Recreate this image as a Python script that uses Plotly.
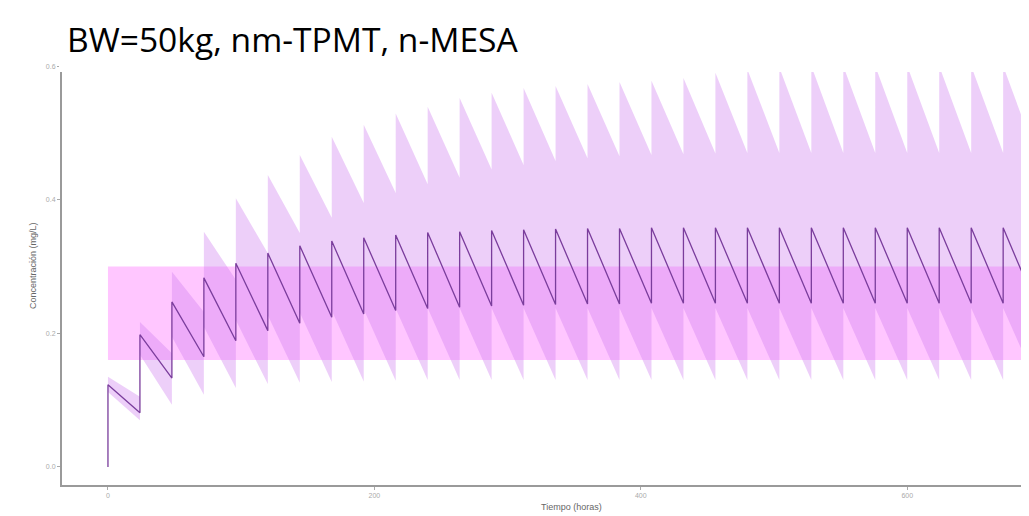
import plotly.graph_objects as go

# ---------------- data ----------------
dose_times = [0, 24, 48, 72, 96, 120, 144, 168, 192, 216, 240, 264, 288, 312, 336,
              360, 384, 408, 432, 456, 480, 504, 528, 552, 576, 600, 624, 648, 672]
dose_interval = 24

median_peak = [0.123, 0.198, 0.247, 0.283, 0.305, 0.320, 0.331, 0.338, 0.343, 0.347,
               0.351, 0.352, 0.354, 0.355, 0.356, 0.357, 0.357, 0.358, 0.358, 0.358,
               0.358, 0.358, 0.358, 0.358, 0.358, 0.358, 0.358, 0.358, 0.358]
median_trough = [0.081, 0.133, 0.165, 0.189, 0.204, 0.215, 0.224, 0.229, 0.234, 0.237,
                 0.239, 0.241, 0.242, 0.243, 0.244, 0.244, 0.245, 0.245, 0.245, 0.245,
                 0.245, 0.245, 0.245, 0.245, 0.245, 0.245, 0.245, 0.245, 0.245]

upper_peak = [0.135, 0.217, 0.292, 0.352, 0.402, 0.437, 0.467, 0.494, 0.512, 0.529,
              0.539, 0.552, 0.560, 0.567, 0.570, 0.573, 0.576, 0.578, 0.582, 0.590,
              0.595, 0.598, 0.600, 0.600, 0.600, 0.600, 0.600, 0.600, 0.600]
upper_trough = [0.105, 0.170, 0.232, 0.280, 0.320, 0.350, 0.373, 0.395, 0.410, 0.423,
                0.433, 0.445, 0.452, 0.458, 0.462, 0.465, 0.467, 0.468, 0.469, 0.470,
                0.470, 0.470, 0.470, 0.470, 0.470, 0.470, 0.470, 0.470, 0.470]

lower_peak = [0.112, 0.168, 0.195, 0.210, 0.220, 0.227, 0.231, 0.234, 0.236, 0.237,
              0.238, 0.238, 0.238, 0.238, 0.238, 0.238, 0.238, 0.238, 0.238, 0.238,
              0.238, 0.238, 0.238, 0.238, 0.238, 0.238, 0.238, 0.238, 0.238]
lower_trough = [0.070, 0.093, 0.108, 0.118, 0.124, 0.126, 0.127, 0.128, 0.129, 0.130,
                0.130, 0.130, 0.130, 0.130, 0.130, 0.130, 0.130, 0.130, 0.130, 0.130,
                0.130, 0.130, 0.130, 0.130, 0.130, 0.130, 0.130, 0.130, 0.130]

target_low = 0.16
target_high = 0.30

x_ticks = [0, 200, 400, 600]
y_ticks = [0.0, 0.2, 0.4, 0.6]
y_tick_labels = ["0.0", "0.2", "0.4", "0.6"]

title_text = "BW=50kg, nm-TPMT, n-MESA"
x_title = "Tiempo (horas)"
y_title = "Concentración (mg/L)"

# ---------------- build paths ----------------
def sawtooth(peaks, troughs, start=None):
    xs, ys = [], []
    if start is not None:
        xs.append(dose_times[0]); ys.append(start)
    for d, p, t in zip(dose_times, peaks, troughs):
        xs += [d, d + dose_interval]
        ys += [p, t]
    return xs, ys

ux, uy = sawtooth(upper_peak, upper_trough)
lx, ly = sawtooth(lower_peak, lower_trough)
mx, my = sawtooth(median_peak, median_trough, start=0.0)

band_x = ux + lx[::-1]
band_y = uy + ly[::-1]

fig = go.Figure()
fig.add_trace(go.Scatter(x=band_x, y=band_y, fill="toself",
                         fillcolor="rgba(205,125,240,0.37)",
                         line=dict(width=0), mode="lines",
                         hoverinfo="skip", showlegend=False))
fig.add_trace(go.Scatter(x=mx, y=my, mode="lines",
                         line=dict(color="#7A3D9C", width=1.3),
                         showlegend=False))

# therapeutic window
fig.add_shape(type="rect", xref="x", yref="y", x0=0, x1=800,
              y0=target_low, y1=target_high,
              fillcolor="#FFC6FF", line=dict(width=0), layer="below")

# page offset (body margin of the html page)
OFF = 8
W, H = 1029 - OFF, 516 - OFF
ml, mr, mt, mb = 62 - OFF, 0, 46 - OFF, 31
pw, ph = W - ml - mr, H - mt - mb

def px2paper_x(px):           # px given in page (reference) pixels
    return (px - OFF - ml) / pw

def px2paper_y(py):
    return (H - mb - (py - OFF)) / ph

# white cover at the top (title box of the original)
fig.add_shape(type="rect", xref="paper", yref="paper",
              x0=px2paper_x(59), x1=px2paper_x(1040),
              y0=px2paper_y(72), y1=px2paper_y(0),
              fillcolor="white", line=dict(width=0), layer="above")

fig.add_annotation(text=title_text, xref="paper", yref="paper",
                   x=px2paper_x(65), y=px2paper_y(64), xanchor="left", yanchor="bottom",
                   showarrow=False, font=dict(family="Open Sans", size=33.6, color="#000000"))
fig.add_annotation(text=x_title, xref="paper", yref="paper",
                   x=px2paper_x(571), y=px2paper_y(507), xanchor="center", yanchor="middle",
                   showarrow=False, font=dict(family="Liberation Sans", size=9, color="#666666"))
fig.add_annotation(text=y_title, xref="paper", yref="paper",
                   x=px2paper_x(33), y=px2paper_y(266), xanchor="center", yanchor="middle",
                   textangle=-90,
                   showarrow=False, font=dict(family="Liberation Sans", size=9, color="#666666"))

fig.update_layout(
    width=W, height=H,
    margin=dict(l=ml, r=mr, t=mt, b=mb, autoexpand=False),
    paper_bgcolor="white", plot_bgcolor="white",
    font=dict(family="Liberation Sans"),
)
fig.update_xaxes(range=[-34.5, 691.4], tickvals=x_ticks, showgrid=False, zeroline=False,
                 showline=True, linecolor="#9a9a9a", linewidth=2,
                 ticks="outside", ticklen=3, tickcolor="#aaaaaa", tickwidth=1,
                 tickfont=dict(size=7, color="#aaaaaa"))
fig.update_yaxes(range=[-0.027, 0.63], tickvals=y_ticks, ticktext=y_tick_labels,
                 showgrid=False, zeroline=False,
                 showline=True, linecolor="#9a9a9a", linewidth=2,
                 ticks="outside", ticklen=3, tickcolor="#aaaaaa", tickwidth=1,
                 tickfont=dict(size=7, color="#aaaaaa"))

fig.write_html("out.html")
